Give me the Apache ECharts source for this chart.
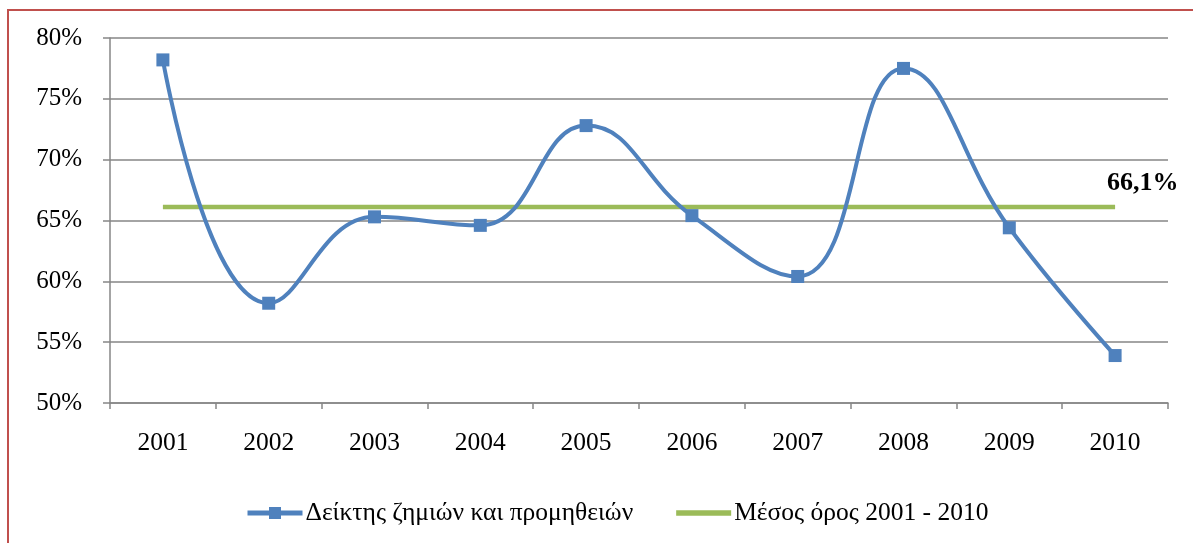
<!DOCTYPE html>
<html lang="el">
<head>
    <meta charset="UTF-8">
    <title>Δείκτης ζημιών και προμηθειών</title>
    <script src="https://cdn.jsdelivr.net/npm/echarts/dist/echarts.min.js"></script>
    <style>
        body { margin: 0; background: #fff; }
        #frame { position: absolute; left: 7px; top: 9px; width: 1200px; height: 560px;
                 border-left: 2px solid #C0504D; border-top: 2px solid #C0504D; }
        #chart1 { position: absolute; left: 0; top: 0; width: 1193px; height: 543px; }
    </style>
</head>
<body>
<div id="frame"></div>
<div id="chart1"></div>
<script type="text/javascript">
    var years = ['2001', '2002', '2003', '2004', '2005', '2006', '2007', '2008', '2009', '2010'];
    var ratio = [78.2, 58.2, 65.3, 64.6, 72.8, 65.4, 60.4, 77.5, 64.4, 53.9];
    var average = [66.1, 66.1, 66.1, 66.1, 66.1, 66.1, 66.1, 66.1, 66.1, 66.1];
    var yTicks = [50, 55, 60, 65, 70, 75, 80];

    var font = '"Liberation Serif", "Times New Roman", serif';
    var chart1 = echarts.init(document.getElementById('chart1'));

    option = {
        backgroundColor: 'transparent',
        animation: false,
        textStyle: { fontFamily: font, color: '#000' },
        grid: { left: 110, right: 25, top: 38, bottom: 140 },
        xAxis: {
            type: 'category',
            data: years,
            boundaryGap: true,
            axisLine: { lineStyle: { color: '#868686', width: 1.5 } },
            axisTick: { show: true, length: 6, lineStyle: { color: '#868686', width: 1.5 } },
            axisLabel: { fontFamily: font, fontSize: 25.5, color: '#000', margin: 27 }
        },
        yAxis: {
            type: 'value',
            min: yTicks[0],
            max: yTicks[yTicks.length - 1],
            interval: 5,
            axisLine: { show: true, lineStyle: { color: '#868686', width: 1.5 } },
            axisTick: { show: true, length: 7, lineStyle: { color: '#868686', width: 1.5 } },
            splitLine: { lineStyle: { color: '#868686', width: 1.5 } },
            axisLabel: { fontFamily: font, fontSize: 25, color: '#000', margin: 28,
                formatter: function (v) { return v + '%'; } }
        },
        legend: {
            left: 240,
            top: 495,
            itemWidth: 55,
            itemHeight: 15,
            itemGap: 43,
            textStyle: { fontFamily: font, fontSize: 25.5, color: '#000', padding: [0, 0, 0, -2] },
            data: [
                { name: 'Δείκτης ζημιών και προμηθειών', lineStyle: { width: 5 } },
                { name: 'Μέσος όρος 2001 - 2010', icon: 'path://M0,0 L55,0 L55,5.5 L0,5.5 Z' }
            ]
        },
        series: [
            {
                name: 'Δείκτης ζημιών και προμηθειών',
                type: 'line',
                data: ratio,
                smooth: 0.45,
                symbol: 'rect',
                symbolSize: 13,
                color: '#4F81BD',
                lineStyle: { width: 4, color: '#4F81BD' },
                itemStyle: { color: '#4F81BD' },
                z: 3
            },
            {
                name: 'Μέσος όρος 2001 - 2010',
                type: 'line',
                data: average,
                symbol: 'none',
                color: '#9BBB59',
                lineStyle: { width: 4.5, color: '#9BBB59' },
                z: 2,
                endLabel: {
                    show: true,
                    formatter: function (p) { return String(p.value).replace('.', ',') + '%'; },
                    fontFamily: font,
                    fontSize: 26,
                    fontWeight: 'bold',
                    color: '#000',
                    offset: [-16, -24]
                }
            }
        ]
    };
    chart1.setOption(option);
</script>
</body>
</html>
